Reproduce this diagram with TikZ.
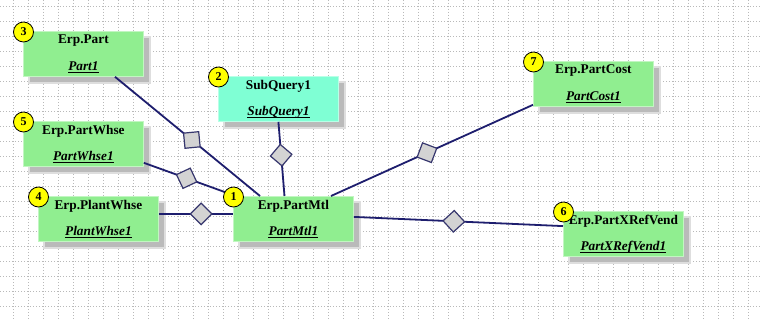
\documentclass[tikz,border=0pt]{standalone}
\usepackage{fontspec}
\setmainfont{Liberation Serif}
\newfontfamily\tblfont{Liberation Serif}
\usetikzlibrary{shapes.geometric,calc}
\definecolor{boxgreen}{HTML}{90EE90}
\definecolor{boxaqua}{HTML}{7FFFD4}
\definecolor{conncol}{RGB}{30,30,110}
\definecolor{diafill}{HTML}{D3D3D3}
\definecolor{diadraw}{RGB}{55,55,110}
\definecolor{gridcol}{RGB}{185,185,185}
\definecolor{badgeyellow}{HTML}{FFFF00}
\newcommand{\tblshadow}[2]{%
  \fill[black!13] (#1+5,#2+5) rectangle (#1+128,#2+53);
  \fill[black!27] (#1+7,#2+7) rectangle (#1+126,#2+51);}
\begin{document}
\begin{tikzpicture}[x=1pt,y=-1pt,
  tbl/.style={rectangle, minimum width=120pt, minimum height=45pt, inner sep=0pt,
    anchor=north west, fill=boxgreen, draw=boxgreen!55!white, line width=0.8pt},
  qtbl/.style={tbl, fill=boxaqua, draw=boxaqua!55!white},
  ttl/.style={anchor=base, inner sep=0pt, font=\tblfont\fontsize{13.3}{15}\selectfont\bfseries},
  sub/.style={anchor=base, inner sep=0pt, font=\tblfont\fontsize{13.3}{15}\selectfont\bfseries\itshape},
  uline/.style={line width=0.9pt, black},
  badge/.style={circle, fill=badgeyellow, draw=black, line width=0.8pt, minimum size=20pt,
    inner sep=0pt, font=\tblfont\fontsize{12}{12}\selectfont\bfseries},
  conn/.style={draw=conncol, line width=1.8pt},
  dia/.style={diamond, aspect=1, sloped, minimum width=22pt, minimum height=22pt, inner sep=0pt,
    fill=diafill, draw=diadraw, line width=1.2pt},
  gridline/.style={draw=gridcol, line width=0.9pt, dash pattern=on 1.2pt off 1.8pt}]
\useasboundingbox (0,0) rectangle (760,321);
\fill[white] (0,0) rectangle (760,321);
% grid
\foreach \gx in {13,28,...,758} \draw[gridline] (\gx,0) -- (\gx,321);
\foreach \gy in {6,21,...,321} \draw[gridline] (0,\gy) -- (760,\gy);
% shadows
\tblshadow{23}{31}
\tblshadow{218}{76}
\tblshadow{23}{121}
\tblshadow{38}{196}
\tblshadow{233}{196}
\tblshadow{533}{61}
\tblshadow{563}{211}
% tables
\node[tbl]  (part)      at (23,31)  {};
\node[qtbl] (subq)      at (218,76) {};
\node[tbl]  (partwhse)  at (23,121) {};
\node[tbl]  (plantwhse) at (38,196) {};
\node[tbl]  (partmtl)   at (233,196) {};
\node[tbl]  (partcost)  at (533,61) {};
\node[tbl]  (xref)      at (563,211) {};
% connectors
\draw[conn] ([xshift=92pt]part.south west) -- node[dia, pos=0.53] (d1) {} ([xshift=27pt]partmtl.north west);
\draw[conn] (subq.south) -- node[dia, pos=0.45] (d2) {} ([xshift=51.5pt]partmtl.north west);
\draw[conn] ([yshift=4pt]partwhse.south east) -- node[dia, pos=0.48] (d3) {} ([yshift=1pt]partmtl.north west);
\draw[conn] ([yshift=5pt]plantwhse.east) -- node[dia, pos=0.57] (d4) {} ([yshift=5pt]partmtl.west);
\draw[conn] ([xshift=98pt]partmtl.north west) -- node[dia, pos=0.475] (d5) {} ([yshift=2pt]partcost.south west);
\draw[conn] ([yshift=2pt]partmtl.east) -- node[dia, pos=0.478] (d6) {} ([yshift=7.8pt]xref.west);
% titles
\foreach \nm/\ttxt/\stxt in {part/Erp.Part/Part1, subq/SubQuery1/SubQuery1, partwhse/Erp.PartWhse/PartWhse1,
    plantwhse/Erp.PlantWhse/PlantWhse1, partmtl/Erp.PartMtl/PartMtl1, partcost/Erp.PartCost/PartCost1,
    xref/Erp.PartXRefVend/PartXRefVend1} {
  \node[ttl] (\nm-t) at ([yshift=-13pt]\nm.north) {\ttxt};
  \node[sub] (\nm-s) at ([yshift=-39.5pt]\nm.north) {\stxt};
  \draw[uline] ([yshift=-2pt]\nm-s.base west) -- ([yshift=-2pt]\nm-s.base east);
}
% badges
\node[badge] (b1) at ([xshift=0.5pt,yshift=-1pt]partmtl.north west) {1};
\node[badge] (b2) at ([xshift=0.5pt,yshift=-1pt]subq.north west) {2};
\node[badge] (b3) at ([xshift=0.5pt,yshift=-1pt]part.north west) {3};
\node[badge] (b4) at ([xshift=0.5pt,yshift=-1pt]plantwhse.north west) {4};
\node[badge] (b5) at ([xshift=0.5pt,yshift=-1pt]partwhse.north west) {5};
\node[badge] (b6) at ([xshift=0.5pt,yshift=-1pt]xref.north west) {6};
\node[badge] (b7) at ([xshift=0.5pt,yshift=-1pt]partcost.north west) {7};
\end{tikzpicture}
\end{document}
